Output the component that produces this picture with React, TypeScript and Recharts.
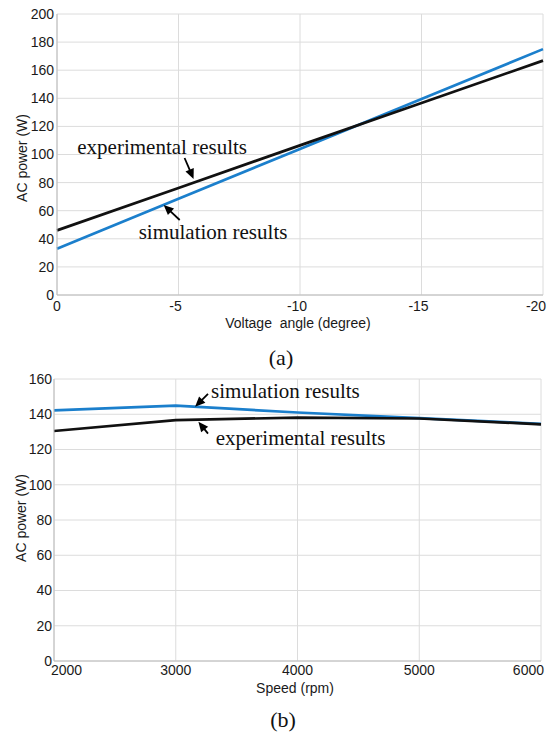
import React from 'react';
import { LineChart, Line, XAxis, YAxis, CartesianGrid, ReferenceLine, ReferenceDot } from 'recharts';

// ---- Chart (a): AC power vs voltage angle ----
const angles = [0, -5, -10, -15, -20];
const angleExp = [46, 76.2, 106.5, 136.7, 166.8];
const angleSim = [33, 68.5, 104, 139.5, 175];
const angleTicks = [0, -5, -10, -15, -20];
const powerTicksA = [0, 20, 40, 60, 80, 100, 120, 140, 160, 180, 200];

// ---- Chart (b): AC power vs speed ----
const speeds = [2000, 3000, 4000, 5000, 6000];
const speedSim = [142.2, 144.9, 141, 137.8, 134.5];
const speedExp = [130.5, 136.7, 138.1, 137.6, 134.3];
const speedTicks = [2000, 3000, 4000, 5000, 6000];
const powerTicksB = [0, 20, 40, 60, 80, 100, 120, 140, 160];

const dataA = angles.map((a, i) => ({ angle: a, exp: angleExp[i], sim: angleSim[i] }));
const dataB = speeds.map((s, i) => ({ speed: s, exp: speedExp[i], sim: speedSim[i] }));

const SANS = "'Liberation Sans', Arial, Helvetica, sans-serif";
const SERIF = "'Liberation Serif', 'Times New Roman', Times, serif";
const BLUE = '#1b7fcc';
const BLACK = '#111111';
const GRID = '#dcdcdc';
const AXIS = '#bcbcbc';

const Arrow = (p: any) => {
  const { x1, y1, x2, y2 } = p;
  if ([x1, y1, x2, y2].some((v) => typeof v !== 'number' || isNaN(v))) return <g />;
  const dx = x2 - x1;
  const dy = y2 - y1;
  const len = Math.hypot(dx, dy) || 1;
  const ux = dx / len;
  const uy = dy / len;
  const hl = 10;
  const hw = 4.5;
  const bx = x2 - ux * hl;
  const by = y2 - uy * hl;
  const pts = `${x2},${y2} ${bx - uy * hw},${by + ux * hw} ${bx + uy * hw},${by - ux * hw}`;
  return (
    <g>
      <line x1={x1} y1={y1} x2={bx + ux} y2={by + uy} stroke="#000" strokeWidth={1.8} />
      <polygon points={pts} fill="#000" />
    </g>
  );
};

const note = (label: string) => (p: any) => (
  <text x={p.cx} y={p.cy} fontFamily={SERIF} fontSize={21} fill="#111">
    {label}
  </text>
);

const tickStyle = { fontSize: 14, fill: '#1a1a1a', fontFamily: SANS };

const AngleTick = (p: any) => {
  const v = p.payload.value;
  const dx = v === 0 ? 0 : v === -20 ? -7 : -3;
  return (
    <text x={p.x + dx} y={p.y} dy="0.71em" textAnchor="middle" fontSize={14} fill="#1a1a1a" fontFamily={SANS}>
      {v}
    </text>
  );
};

const SpeedTick = (p: any) => {
  const v = p.payload.value;
  let anchor: 'start' | 'middle' | 'end' = 'middle';
  let dx = 0;
  if (v === 2000) {
    anchor = 'start';
    dx = -3;
  } else if (v === 6000) {
    anchor = 'end';
    dx = 3;
  }
  return (
    <text x={p.x + dx} y={p.y} dy="0.71em" textAnchor={anchor} fontSize={14} fill="#1a1a1a" fontFamily={SANS}>
      {v}
    </text>
  );
};

const abs = (left: number, top: number, extra: React.CSSProperties = {}): React.CSSProperties => ({
  position: 'absolute',
  left,
  top,
  transform: 'translate(-50%, -50%)',
  whiteSpace: 'nowrap',
  lineHeight: 1,
  ...extra,
});

export default function App() {
  return (
    <div style={{ position: 'absolute', left: 0, top: 0, width: 556, height: 737, background: '#fff', overflow: 'hidden' }}>
      <div style={{ position: 'absolute', left: 0, top: 0 }}>
        <LineChart width={556} height={340} data={dataA} margin={{ top: 14, right: 13, left: 0, bottom: 15 }}>
          <CartesianGrid stroke={GRID} strokeWidth={1} />
          <XAxis
            dataKey="angle"
            type="number"
            domain={[-20, 0]}
            reversed
            ticks={angleTicks}
            tickSize={0}
            tickMargin={6}
            tickLine={false}
            axisLine={{ stroke: AXIS }}
            height={30}
            tick={AngleTick}
            interval={0}
          />
          <YAxis
            type="number"
            domain={[0, 200]}
            ticks={powerTicksA}
            tickSize={0}
            tickMargin={3}
            tickLine={false}
            axisLine={{ stroke: AXIS }}
            width={57}
            tick={tickStyle}
            interval={0}
          />
          <Line dataKey="sim" stroke={BLUE} strokeWidth={2.7} dot={false} isAnimationActive={false} type="linear" />
          <Line dataKey="exp" stroke={BLACK} strokeWidth={2.7} dot={false} isAnimationActive={false} type="linear" />
          <ReferenceLine segment={[{ x: -5.25, y: 97.5 }, { x: -5.62, y: 82.6 }]} shape={Arrow} />
          <ReferenceLine segment={[{ x: -5.05, y: 53.4 }, { x: -4.39, y: 64.1 }]} shape={Arrow} />
          <ReferenceDot x={-0.835} y={100.4} r={1} shape={note('experimental results')} />
          <ReferenceDot x={-3.36} y={39.9} r={1} shape={note('simulation results')} />
        </LineChart>
      </div>

      <div style={{ position: 'absolute', left: 0, top: 340 }}>
        <LineChart width={556} height={397} data={dataB} margin={{ top: 39, right: 15, left: 0, bottom: 36 }}>
          <CartesianGrid stroke={GRID} strokeWidth={1} />
          <XAxis
            dataKey="speed"
            type="number"
            domain={[2000, 6000]}
            ticks={speedTicks}
            tickSize={0}
            tickMargin={4}
            tickLine={false}
            axisLine={{ stroke: AXIS }}
            height={40}
            tick={SpeedTick}
            interval={0}
          />
          <YAxis
            type="number"
            domain={[0, 160]}
            ticks={powerTicksB}
            tickSize={0}
            tickMargin={2}
            tickLine={false}
            axisLine={{ stroke: AXIS }}
            width={54}
            tick={tickStyle}
            interval={0}
          />
          <Line dataKey="sim" stroke={BLUE} strokeWidth={2.7} dot={false} isAnimationActive={false} type="linear" />
          <Line dataKey="exp" stroke={BLACK} strokeWidth={2.7} dot={false} isAnimationActive={false} type="linear" />
          <ReferenceLine segment={[{ x: 3265, y: 151.5 }, { x: 3159, y: 144.3 }]} shape={Arrow} />
          <ReferenceLine segment={[{ x: 3265, y: 129 }, { x: 3186, y: 135.8 }]} shape={Arrow} />
          <ReferenceDot x={3290} y={149.2} r={1} shape={note('simulation results')} />
          <ReferenceDot x={3328} y={122.6} r={1} shape={note('experimental results')} />
        </LineChart>
      </div>

      {/* axis titles and captions */}
      <div style={abs(22, 158, { fontFamily: SANS, fontSize: 14, color: '#1a1a1a', transform: 'translate(-50%, -50%) rotate(-90deg)' })}>
        AC power (W)
      </div>
      <div style={abs(298, 323, { fontFamily: SANS, fontSize: 14, color: '#1a1a1a' })}>Voltage&nbsp; angle (degree)</div>
      <div style={abs(281, 358, { fontFamily: SERIF, fontSize: 22, color: '#111' })}>(a)</div>

      <div style={abs(21, 518, { fontFamily: SANS, fontSize: 14, color: '#1a1a1a', transform: 'translate(-50%, -50%) rotate(-90deg)' })}>
        AC power (W)
      </div>
      <div style={abs(295, 688, { fontFamily: SANS, fontSize: 14, color: '#1a1a1a' })}>Speed (rpm)</div>
      <div style={abs(283, 720, { fontFamily: SERIF, fontSize: 22, color: '#111' })}>(b)</div>
    </div>
  );
}
